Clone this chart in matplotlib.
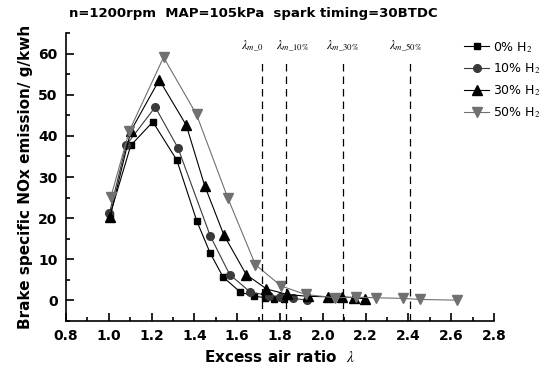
import numpy as np
import matplotlib
matplotlib.use('Agg')
import matplotlib.pyplot as plt
from matplotlib.ticker import MultipleLocator

# data
lam_0 = [1.006, 1.103, 1.206, 1.318, 1.412, 1.474, 1.534, 1.615, 1.68, 1.732, 1.77, 1.818]
nox_0 = [20.8, 37.7, 43.4, 34.1, 19.2, 11.5, 5.7, 2.0, 1.05, 0.65, 0.4, 0.4]

lam_10 = [1.003, 1.081, 1.217, 1.323, 1.474, 1.565, 1.662, 1.75, 1.80, 1.86, 1.927]
nox_10 = [21.2, 37.7, 47.0, 37.1, 15.7, 6.3, 2.0, 1.2, 0.9, 0.5, 0.07]

lam_30 = [1.006, 1.103, 1.236, 1.362, 1.448, 1.537, 1.642, 1.737, 1.834, 1.93, 2.025, 2.088, 2.146, 2.197]
nox_30 = [20.4, 41.2, 53.6, 42.6, 27.9, 16.0, 6.3, 2.8, 1.45, 1.0, 0.9, 0.9, 0.65, 0.4]

lam_50 = [1.01, 1.096, 1.256, 1.41, 1.557, 1.685, 1.806, 1.92, 2.057, 2.153, 2.25, 2.375, 2.455, 2.627]
nox_50 = [25.2, 41.2, 59.1, 45.2, 24.8, 8.7, 3.5, 1.45, 0.65, 0.8, 0.65, 0.5, 0.24, 0.07]

lam_lim = [1.718, 1.826, 2.093, 2.407]
lim_labels = [r'$\lambda_{m\_0}$', r'$\lambda_{m\_10\%}$', r'$\lambda_{m\_30\%}$', r'$\lambda_{m\_50\%}$']
lim_shift = [-0.045, 0.035, 0.0, -0.02]  # label offset from its line

plt.rcParams['mathtext.fontset'] = 'stix'

fig = plt.figure(figsize=(5.48, 3.67), dpi=100)
ax = fig.add_axes([0.1204, 0.1253, 0.781, 0.7848])

ax.plot(lam_0, nox_0, '-s', color='black', lw=0.8, ms=5, label='0% H$_2$')
ax.plot(lam_10, nox_10, '-o', color='#3a3a3a', lw=0.8, ms=5.5, label='10% H$_2$')
ax.plot(lam_30, nox_30, '-^', color='black', lw=0.8, ms=6.5, label='30% H$_2$')
ax.plot(lam_50, nox_50, '-v', color='#707070', lw=0.8, ms=6.5, label='50% H$_2$')

for xv, lb, dx in zip(lam_lim, lim_labels, lim_shift):
    ax.plot([xv, xv], [-5, 57.8], color='black', ls=(0, (6, 4)), lw=0.9)
    ax.text(xv + dx, 62, lb, ha='center', va='center', fontsize=9, family='serif')

ax.set_xlim(0.8, 2.8)
ax.set_ylim(-5, 65)
ax.xaxis.set_major_locator(MultipleLocator(0.2))
ax.xaxis.set_minor_locator(MultipleLocator(0.1))
ax.yaxis.set_major_locator(MultipleLocator(10))
ax.yaxis.set_minor_locator(MultipleLocator(5))
ax.tick_params(which='both', direction='in', width=1.2)
ax.tick_params(which='major', length=6, labelsize=10, pad=6)
ax.tick_params(which='minor', length=3)
for lab in ax.get_xticklabels() + ax.get_yticklabels():
    lab.set_fontweight('bold')
ax.spines['top'].set_visible(False)
ax.spines['right'].set_visible(False)
ax.spines['left'].set_linewidth(1.2)
ax.spines['bottom'].set_linewidth(1.2)

ax.set_xlabel(r'Excess air ratio  $\lambda$', fontsize=11, fontweight='bold', labelpad=4)
ax.set_ylabel('Brake specific NOx emission/ g/kwh', fontsize=11, fontweight='bold', labelpad=4)

fig.text(0.463, 0.962, 'n=1200rpm  MAP=105kPa  spark timing=30BTDC',
         ha='center', va='center', fontsize=9.5, fontweight='bold')

ax.legend(loc='upper left', bbox_to_anchor=(0.838, 0.905), bbox_transform=fig.transFigure,
          frameon=False, fontsize=9, handlelength=2.0, handletextpad=0.3,
          labelspacing=0.55, borderaxespad=0)

fig.savefig('out.png', dpi=100)
